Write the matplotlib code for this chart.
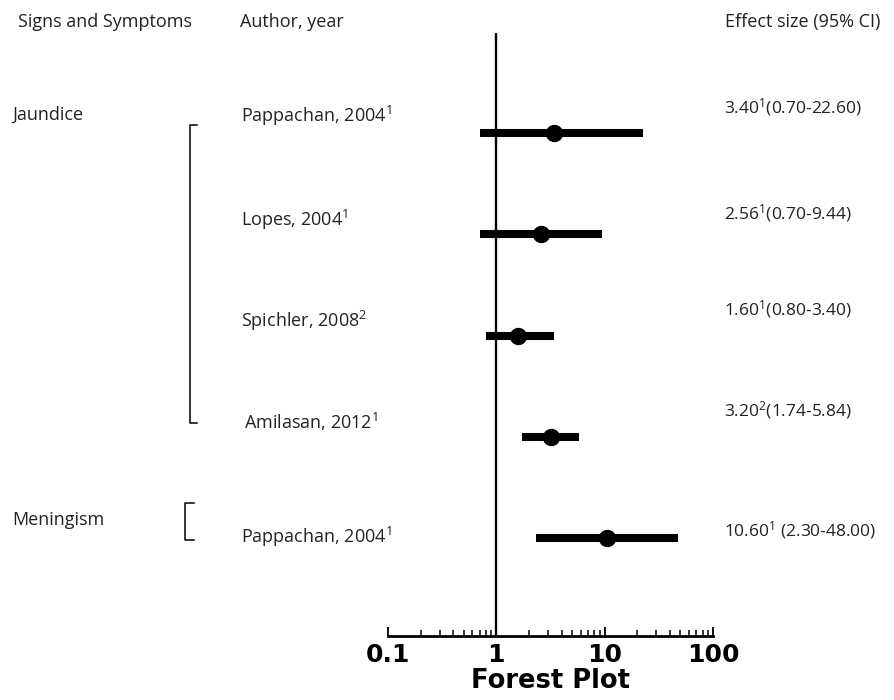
import matplotlib
matplotlib.use('Agg')
import matplotlib.pyplot as plt
from matplotlib.lines import Line2D

# data
authors = ['Pappachan, 2004$^{1}$', 'Lopes, 2004$^{1}$', 'Spichler, 2008$^{2}$',
           'Amilasan, 2012$^{1}$', 'Pappachan, 2004$^{1}$']
estimates = [3.40, 2.56, 1.60, 3.20, 10.60]
ci_low = [0.70, 0.70, 0.80, 1.74, 2.30]
ci_high = [22.60, 9.44, 3.40, 5.84, 48.00]
effect_labels = ['3.40$^{1}$(0.70-22.60)', '2.56$^{1}$(0.70-9.44)', '1.60$^{1}$(0.80-3.40)',
                 '3.20$^{2}$(1.74-5.84)', '10.60$^{1}$ (2.30-48.00)']
groups = ['Jaundice', 'Meningism']
tick_vals = [0.1, 1, 10, 100]
tick_labels = ['0.1', '1', '10', '100']

# layout (pixel offsets of labels relative to each row)
author_x = [241, 241, 241, 244, 241]
author_dy = [17, 14, 15, 15, 1]
effect_dy = [26, 21, 26, 27, 8]

W, H = 895, 700
plt.rcParams['font.family'] = ['Open Sans', 'DejaVu Sans']
plt.rcParams['mathtext.default'] = 'regular'

fig = plt.figure(figsize=(W / 100, H / 100), dpi=100)
ax = fig.add_axes([388 / W, (H - 636) / H, (713 - 388) / W, (636 - 33) / H])

rows = list(range(len(estimates)))
for y, lo, hi, est in zip(rows, ci_low, ci_high, estimates):
    ax.plot([lo, hi], [y, y], color='black', lw=5.8, solid_capstyle='butt', zorder=3)
    ax.plot(est, y, 'o', color='black', ms=11.5, zorder=4)

ax.axvline(1, color='black', lw=1.7, zorder=2)

ax.set_xscale('log')
ax.set_xlim(0.1, 100)
ax.set_ylim(4.968, -0.988)
ax.set_xticks(tick_vals)
ax.set_xticklabels(tick_labels, fontsize=18, fontweight='bold', family='DejaVu Sans')
ax.tick_params(axis='x', which='major', direction='in', length=6.5, width=1.3, pad=5)
ax.tick_params(axis='x', which='minor', direction='in', length=4.3, width=1.1)
ax.set_yticks([])
for s in ['top', 'right', 'left']:
    ax.spines[s].set_visible(False)
ax.spines['bottom'].set_linewidth(2.0)
ax.set_xlabel('Forest Plot', fontsize=18.5, fontweight='bold', family='DejaVu Sans', labelpad=1)

txt = dict(fontsize=13, color='#222222', va='center', ha='left')

def ptxt(x, y, s, **kw):
    # x, y in pixels from the top-left corner
    fig.text(x / W, 1 - y / H, s, **{**txt, **kw})

ptxt(18, 22, 'Signs and Symptoms')
ptxt(240, 22, 'Author, year')
ptxt(725, 22, 'Effect size (95% CI)')
ptxt(12, 115, groups[0])
ptxt(12, 520, groups[1])

for y, a, ax_, ady, e, edy in zip(rows, authors, author_x, author_dy, effect_labels, effect_dy):
    ax.annotate(a, xy=(ax_, y), xycoords=('figure pixels', 'data'),
                xytext=(0, ady), textcoords='offset pixels', **txt)
    ax.annotate(e, xy=(724, y), xycoords=('figure pixels', 'data'),
                xytext=(0, edy), textcoords='offset pixels', **{**txt, 'fontsize': 12.5})

def bracket(x, y0, y1, tick):
    xs = [x + tick, x, x, x + tick]
    ys = [y0, y0, y1, y1]
    fig.add_artist(Line2D([v / W for v in xs], [1 - v / H for v in ys],
                          color='black', lw=1.1))

bracket(190, 125, 423, 7)
bracket(185, 503, 540, 9)

fig.savefig('out.png', dpi=100)
